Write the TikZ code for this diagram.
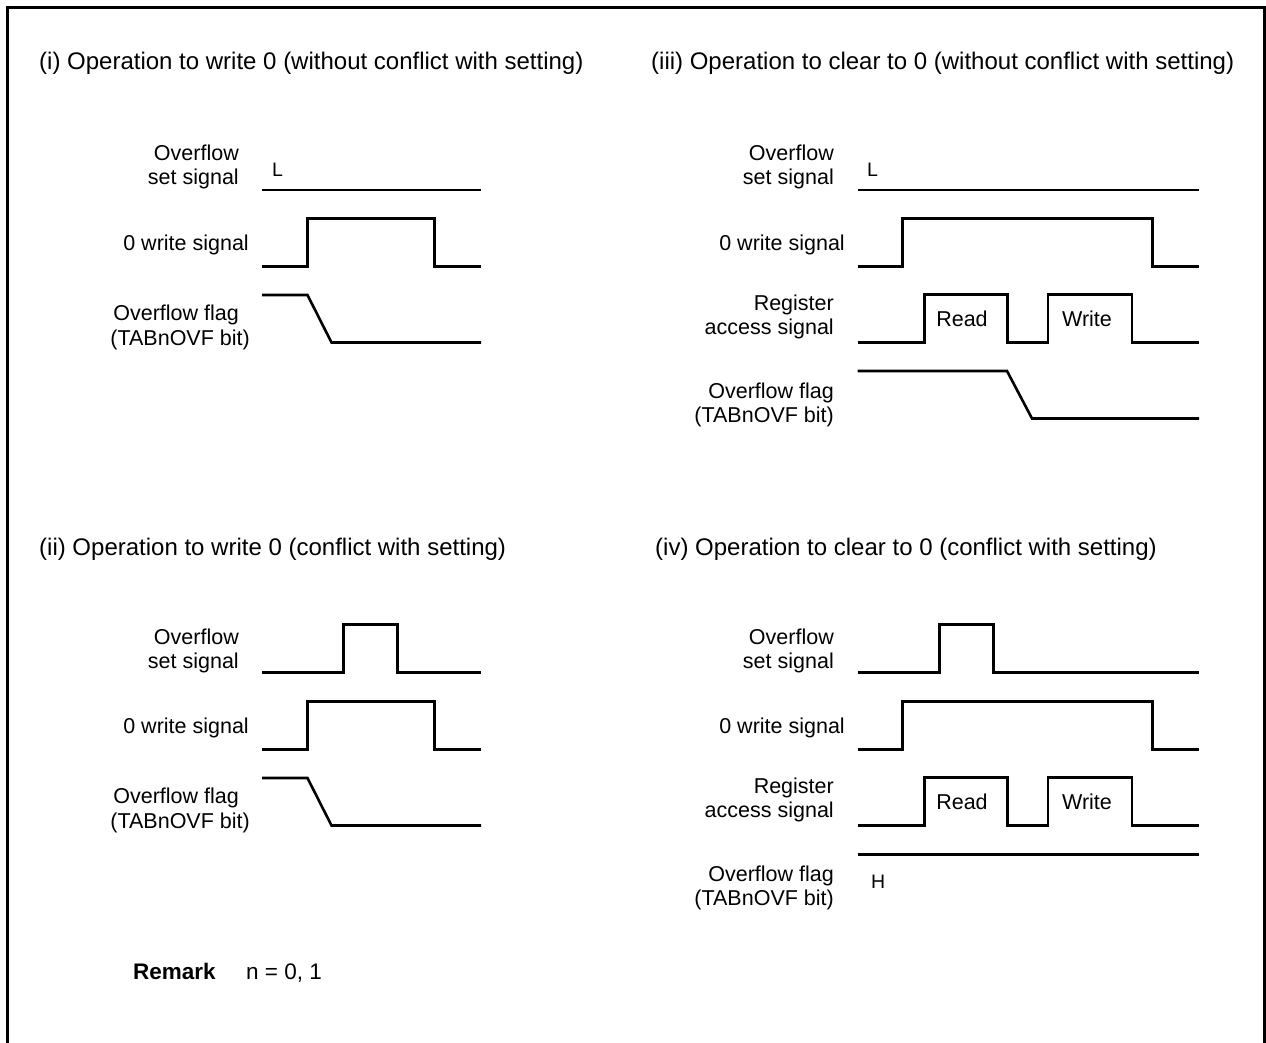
\documentclass[tikz,border=0pt]{standalone}
\usepackage{fontspec}
\setmainfont{Liberation Sans}
\begin{document}
\begin{tikzpicture}[x=1pt,y=-1pt,
  sig/.style={line width=2.6pt, line join=miter, line cap=butt},
  lbl/.style={font=\fontsize{21.5}{25}\selectfont, anchor=base east, inner sep=0pt},
  ttl/.style={font=\fontsize{24}{28}\selectfont, anchor=base west, inner sep=0pt},
  lvl/.style={font=\fontsize{19.5}{22}\selectfont, anchor=base west, inner sep=0pt},
  ptxt/.style={font=\fontsize{21.5}{25}\selectfont, anchor=base, inner sep=0pt},
  rmk/.style={font=\fontsize{22.5}{26}\selectfont, anchor=base west, inner sep=0pt},
]
\useasboundingbox (0,0) rectangle (1266,1043);
\draw[line width=3pt] (7.5,1043) -- (7.5,7.5) -- (1264,7.5) -- (1264,1043);

% ---------- (i) ----------
\node[ttl] (t1) at (39,70) {(i) Operation to write 0 (without conflict with setting)};
\node[lbl] (i-set-a) at (239,161) {Overflow};
\node[lbl] (i-set-b) at (239,185) {set signal};
\node[lvl] (i-L) at (272,177) {L};
\draw[sig] (262,190) -- (481,190);
\node[lbl] (i-wr) at (249,250) {0 write signal};
\draw[sig] (262,266.5) -- (307.5,266.5) -- (307.5,218.5) -- (434.5,218.5) -- (434.5,266.5) -- (481,266.5);
\node[lbl] (i-fl-a) at (239,320) {Overflow flag};
\node[lbl] (i-fl-b) at (250,345) {(TABnOVF bit)};
\draw[sig] (262,295) -- (307.5,295) -- (331.5,342.5) -- (481,342.5);

% ---------- (ii) ----------
\node[ttl] (t2) at (39,555) {(ii) Operation to write 0 (conflict with setting)};
\node[lbl] (ii-set-a) at (239,644) {Overflow};
\node[lbl] (ii-set-b) at (239,668) {set signal};
\draw[sig] (262,672.5) -- (343.5,672.5) -- (343.5,624.5) -- (397.5,624.5) -- (397.5,672.5) -- (481,672.5);
\node[lbl] (ii-wr) at (249,733) {0 write signal};
\draw[sig] (262,749.5) -- (307.5,749.5) -- (307.5,701.5) -- (434.5,701.5) -- (434.5,749.5) -- (481,749.5);
\node[lbl] (ii-fl-a) at (239,803) {Overflow flag};
\node[lbl] (ii-fl-b) at (250,828) {(TABnOVF bit)};
\draw[sig] (262,778) -- (307.5,778) -- (331.5,825.5) -- (481,825.5);

% ---------- (iii) ----------
\node[ttl] (t3) at (651,70) {(iii) Operation to clear to 0 (without conflict with setting)};
\node[lbl] (iii-set-a) at (834,161) {Overflow};
\node[lbl] (iii-set-b) at (834,185) {set signal};
\node[lvl] (iii-L) at (867,177) {L};
\draw[sig] (857.5,190) -- (1199,190);
\node[lbl] (iii-wr) at (845,250) {0 write signal};
\draw[sig] (857.5,266.5) -- (902.5,266.5) -- (902.5,218.5) -- (1152.5,218.5) -- (1152.5,266.5) -- (1199,266.5);
\node[lbl] (iii-ra-a) at (834,310) {Register};
\node[lbl] (iii-ra-b) at (834,334) {access signal};
\draw[sig] (857.5,342.5) -- (924.5,342.5) -- (924.5,294.5) -- (1007.5,294.5) -- (1007.5,342.5) -- (1048,342.5) -- (1048,294.5) -- (1132,294.5) -- (1132,342.5) -- (1199,342.5);
\node[ptxt] (iii-rd) at (962,326) {Read};
\node[ptxt] (iii-wt) at (1087,326) {Write};
\node[lbl] (iii-fl-a) at (834,398) {Overflow flag};
\node[lbl] (iii-fl-b) at (834,422) {(TABnOVF bit)};
\draw[sig] (857.5,371) -- (1007,371) -- (1032,418.5) -- (1199,418.5);

% ---------- (iv) ----------
\node[ttl] (t4) at (655,555) {(iv) Operation to clear to 0 (conflict with setting)};
\node[lbl] (iv-set-a) at (834,644) {Overflow};
\node[lbl] (iv-set-b) at (834,668) {set signal};
\draw[sig] (857.5,672.5) -- (939.5,672.5) -- (939.5,624.5) -- (993.5,624.5) -- (993.5,672.5) -- (1199,672.5);
\node[lbl] (iv-wr) at (845,733) {0 write signal};
\draw[sig] (857.5,749.5) -- (902.5,749.5) -- (902.5,701.5) -- (1152.5,701.5) -- (1152.5,749.5) -- (1199,749.5);
\node[lbl] (iv-ra-a) at (834,793) {Register};
\node[lbl] (iv-ra-b) at (834,817) {access signal};
\draw[sig] (857.5,825.5) -- (924.5,825.5) -- (924.5,777.5) -- (1007.5,777.5) -- (1007.5,825.5) -- (1048,825.5) -- (1048,777.5) -- (1132,777.5) -- (1132,825.5) -- (1199,825.5);
\node[ptxt] (iv-rd) at (962,809) {Read};
\node[ptxt] (iv-wt) at (1087,809) {Write};
\node[lbl] (iv-fl-a) at (834,881) {Overflow flag};
\node[lbl] (iv-fl-b) at (834,905) {(TABnOVF bit)};
\draw[sig] (857.5,854.5) -- (1199,854.5);
\node[lvl] (iv-H) at (871,888) {H};

% ---------- remark ----------
\node[rmk] (rm-a) at (133,979) {\bfseries Remark};
\node[rmk] (rm-b) at (246,979) {n = 0, 1};
\end{tikzpicture}
\end{document}
